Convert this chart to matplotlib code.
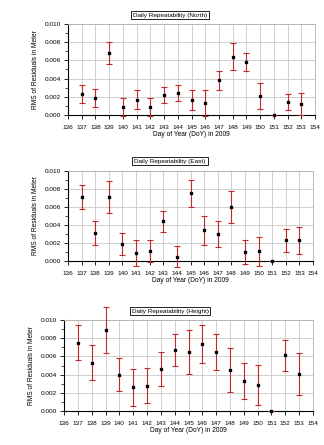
import matplotlib
matplotlib.use("Agg")
import matplotlib.pyplot as plt
from matplotlib.ticker import MultipleLocator, FormatStrFormatter

plt.rcParams['font.family'] = ['Liberation Sans', 'DejaVu Sans']

days = list(range(137, 154))

north_rms = [0.0023, 0.0019, 0.0068, 0.0009, 0.0017, 0.0009, 0.0022, 0.0024, 0.0017,
             0.0013, 0.0038, 0.0064, 0.0058, 0.0021, 0.0000, 0.0014, 0.0012]
north_err = [0.0010, 0.0010, 0.0012, 0.0010, 0.0010, 0.0010, 0.0009, 0.0009, 0.0011,
             0.0014, 0.0010, 0.0015, 0.0010, 0.0014, 0.0000, 0.0009, 0.0012]

east_rms = [0.0071, 0.0031, 0.0071, 0.0019, 0.0009, 0.0011, 0.0044, 0.0005, 0.0075,
            0.0034, 0.0030, 0.0060, 0.0010, 0.0011, 0.0000, 0.0023, 0.0023]
east_err = [0.0013, 0.0013, 0.0018, 0.0012, 0.0014, 0.0012, 0.0012, 0.0012, 0.0015,
            0.0016, 0.0014, 0.0018, 0.0013, 0.0016, 0.0000, 0.0013, 0.0015]

height_rms = [0.0075, 0.0053, 0.0089, 0.0040, 0.0026, 0.0028, 0.0046, 0.0067, 0.0065,
              0.0074, 0.0065, 0.0045, 0.0033, 0.0029, 0.0000, 0.0061, 0.0041]
height_err = [0.0019, 0.0019, 0.0025, 0.0018, 0.0020, 0.0019, 0.0019, 0.0018, 0.0024,
              0.0021, 0.0020, 0.0024, 0.0020, 0.0022, 0.0000, 0.0017, 0.0023]

x_ticks = list(range(136, 155))

panels = [
    ("Daily Repeatability (North)", north_rms, north_err, [68, 315, 24, 115], 15),
    ("Daily Repeatability (East)", east_rms, east_err, [68, 313, 171, 261], 161),
    ("Daily Repeatability (Height)", height_rms, height_err, [64, 313, 320, 411], 311),
]

W, H = 324, 445
fig = plt.figure(figsize=(W / 100, H / 100), dpi=100)
fig.patch.set_facecolor('white')

for title, rms, err, (x0, x1, y0, y1), ty in panels:
    ax = fig.add_axes([x0 / W, 1 - y1 / H, (x1 - x0) / W, (y1 - y0) / H])
    ax.errorbar(days, rms, yerr=err, fmt='s', color='black', ms=1.5,
                ecolor='#c0282a', elinewidth=0.8, capsize=2.4, capthick=0.8,
                clip_on=False, zorder=3)
    ax.set_xlim(136, 154)
    ax.set_ylim(0, 0.010)
    ax.set_xticks(x_ticks)
    ax.set_xticklabels([str(t) for t in x_ticks])
    ax.yaxis.set_major_locator(MultipleLocator(0.002))
    ax.yaxis.set_minor_locator(MultipleLocator(0.001))
    ax.yaxis.set_major_formatter(FormatStrFormatter('%.3f'))
    ax.grid(True, which='major', color='#c8c8c8', linewidth=0.6)
    ax.set_axisbelow(True)
    for side in ('top', 'right'):
        ax.spines[side].set_color('#b0b0b0')
        ax.spines[side].set_linewidth(0.6)
    for side in ('left', 'bottom'):
        ax.spines[side].set_color('black')
        ax.spines[side].set_linewidth(0.8)
    ax.tick_params(axis='both', which='major', labelsize=4.6, length=3, width=0.6,
                   direction='out', pad=2)
    ax.tick_params(axis='y', which='minor', length=2, width=0.5, direction='out')
    ax.tick_params(axis='x', pad=4)
    ax.set_xlabel("Day of Year (DoY) in 2009", fontsize=4.8, labelpad=1)
    ax.set_ylabel("RMS of Residuals in Meter", fontsize=4.8, labelpad=4)
    fig.text(170 / W, 1 - ty / H, title, fontsize=4.6, ha='center', va='center',
             bbox=dict(boxstyle='square,pad=0.3', fc='white', ec='black', lw=0.6))

fig.savefig("out.png", dpi=100)
